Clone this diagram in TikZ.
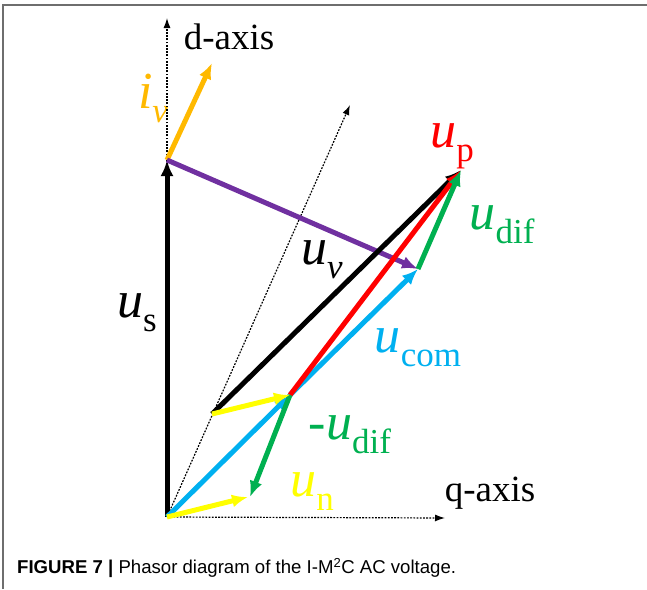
\documentclass[tikz,border=0pt]{standalone}
\usepackage{fontspec}
\setmainfont{Liberation Serif}
\newfontfamily\capfont{Liberation Sans}
\usetikzlibrary{arrows.meta, positioning, calc}
\definecolor{FrameGray}{HTML}{6E6E6E}
\definecolor{CurOrange}{HTML}{FFB900}
\definecolor{VolPurple}{HTML}{7030A0}
\definecolor{DifGreen}{HTML}{00B050}
\definecolor{ComBlue}{HTML}{00B0F0}
\definecolor{NegYellow}{HTML}{FFFF00}
\definecolor{PosRed}{HTML}{FF0000}
\newcommand{\phasorlab}[2]{\textit{#1}\raisebox{-0.27em}{\fontsize{35}{35}\selectfont #2}}

\begin{document}
\begin{tikzpicture}[x=1pt, y=-1pt, every node/.style={inner sep=0pt, font=\fontsize{52}{56}\selectfont}]
                \useasboundingbox (0,0) rectangle (647,589);
                \draw[FrameGray, line width=1.5pt] (3,589) -- (3,5) -- (647,5);

                % points of the diagram
                \coordinate (O) at (167,517);
                \coordinate (dtop) at (167,18);
                \coordinate (qend) at (445,518);
                \coordinate (S) at (167,160);
                \coordinate (I) at (212,63);
                \coordinate (ref) at (350,105);
                \coordinate (A) at (290,395);
                \coordinate (B) at (418,269);
                \coordinate (P) at (461,170);
                \coordinate (V) at (212,414);
                \coordinate (N) at (250,497);
                \coordinate (Nq) at (248,497);

                \node[font=\fontsize{37}{40}\selectfont] (dlab) at (229,37) {d-axis};
                \node[font=\fontsize{37}{40}\selectfont] (qlab) at (490,493) {q-axis};
                \node[text=black] (uslab) at (137,313) {\phasorlab{u}{s}};
                \node[text=CurOrange] (ivlab) at (153,98) {\phasorlab{i}{\textit{v}}};
                \node[text=PosRed] (uplab) at (452,146) {\phasorlab{u}{p}};
                \node[text=DifGreen] (udlab) at (502,225) {\phasorlab{u}{dif}};
                \node[text=black] (uvlab) at (322,260) {\phasorlab{u}{\textit{v}}};
                \node[text=ComBlue] (uclab) at (418,348) {\phasorlab{u}{com}};
                \node[text=DifGreen] (mdlab) at (350,435) {-\phasorlab{u}{dif}};
                \node[text=NegYellow] (unlab) at (312,492) {\phasorlab{u}{n}};

                \node[anchor=west, font=\capfont\fontsize{18.6}{22}\selectfont] (cap) at (17,568) {\textbf{FIGURE 7 |} Phasor diagram of the I-M\textsuperscript{2}C AC voltage.};

                % Arrows
                \draw[-{Latex[length=10pt, width=7pt]}, line width=1.2pt, dash pattern=on 1.8pt off 1.4pt] (O) -- (dtop);
                \draw[-{Latex[length=10pt, width=7pt]}, line width=1.2pt, dash pattern=on 1.8pt off 1.4pt] (O) -- (qend);
                \draw[-{Latex[length=10pt, width=7pt]}, line width=1.2pt, dash pattern=on 1.8pt off 1.4pt] (O) -- (ref);
                \draw[-{Latex[length=16pt, width=13pt]}, line width=5pt, color=black] (O) -- (S);
                \draw[-{Latex[length=16pt, width=13pt]}, line width=5pt, color=CurOrange] (S) -- (I);
                \draw[-{Latex[length=16pt, width=13pt]}, line width=5pt, color=VolPurple] (S) -- (B);
                \draw[-{Latex[length=16pt, width=13pt]}, line width=5pt, color=ComBlue] (O) -- (A);
                \draw[-{Latex[length=16pt, width=13pt]}, line width=5pt, color=ComBlue] (A) -- (B);
                \draw[-{Latex[length=16pt, width=13pt]}, line width=5pt, color=black] (V) -- (P);
                \draw[-{Latex[length=16pt, width=13pt]}, line width=5pt, color=PosRed] (A) -- (P);
                \draw[-{Latex[length=16pt, width=13pt]}, line width=5pt, color=DifGreen] (B) -- (P);
                \draw[-{Latex[length=16pt, width=13pt]}, line width=5pt, color=DifGreen] (A) -- (N);
                \draw[-{Latex[length=16pt, width=13pt]}, line width=5pt, color=NegYellow] (V) -- (A);
                \draw[-{Latex[length=16pt, width=13pt]}, line width=5pt, color=NegYellow] (O) -- (Nq);
            \end{tikzpicture}
\end{document}
